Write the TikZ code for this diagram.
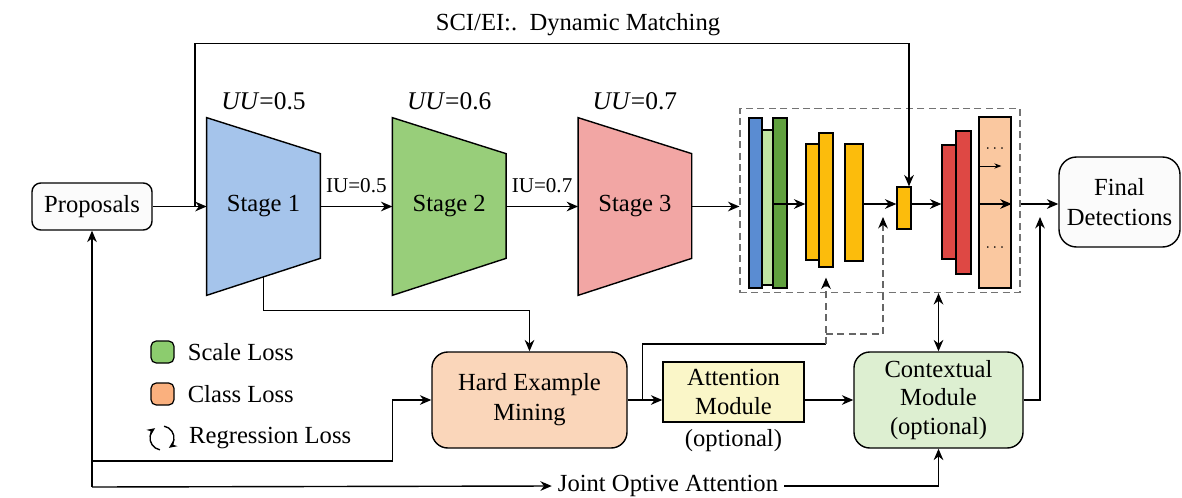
\documentclass[tikz,border=0pt]{standalone}
\usepackage{fontspec}
\setmainfont{Liberation Serif}
\usetikzlibrary{arrows.meta,positioning,calc,backgrounds}
\definecolor{stgblue}{RGB}{165,196,235}
\definecolor{stggreen}{RGB}{152,206,122}
\definecolor{stgred}{RGB}{242,166,164}
\definecolor{hemfill}{RGB}{250,214,186}
\definecolor{attfill}{RGB}{250,246,200}
\definecolor{ctxfill}{RGB}{221,239,209}
\definecolor{barblue}{RGB}{90,140,210}
\definecolor{barlgreen}{RGB}{192,228,162}
\definecolor{bardgreen}{RGB}{96,160,62}
\definecolor{baryellow}{RGB}{252,188,12}
\definecolor{barred}{RGB}{222,72,68}
\definecolor{barpeach}{RGB}{250,200,160}
\definecolor{lgdgreen}{RGB}{140,204,110}
\definecolor{lgdorange}{RGB}{250,176,126}

\begin{document}
\begin{tikzpicture}[
    x=0.2mm, y=-0.2mm,
    font=\fontsize{14}{17}\selectfont,
    arrow/.style={->, >={Stealth[length=6.5pt,width=5.5pt]}, line width=0.8pt},
    box/.style={draw, line width=0.8pt, rounded corners=9pt, align=center, inner sep=2pt},
    stage/.style={minimum width=22.6mm, minimum height=35.4mm, inner sep=0pt},
    bar/.style={draw, line width=0.7pt, inner sep=0pt},
    dline/.style={dashed, dash pattern=on 4pt off 2.5pt, draw=black!60, line width=0.7pt},
    lgd/.style={draw, line width=0.7pt, rounded corners=3pt, minimum width=4.6mm, minimum height=4.4mm, inner sep=0pt}
]
\useasboundingbox (0,0) rectangle (1182,497);

% cascade stages
\node[box, fill=gray!3, rounded corners=5pt, minimum width=24mm, minimum height=9.4mm] (prop) at (92,206.5) {Proposals};
\node[stage] (s1) at (263.5,206.5) {Stage 1};
\node[stage, right=14.4mm of s1] (s2) {Stage 2};
\node[stage, right=14.4mm of s2] (s3) {Stage 3};
\node[above=0.4mm of s1, font=\fontsize{14.5}{17}\selectfont] (uu1) {\textit{UU}=0.5};
\node[above=0.4mm of s2, font=\fontsize{14.5}{17}\selectfont] (uu2) {\textit{UU}=0.6};
\node[above=0.4mm of s3, font=\fontsize{14.5}{17}\selectfont] (uu3) {\textit{UU}=0.7};
\node[font=\fontsize{12}{14}\selectfont] (iu1) at ($(s1.east)!0.5!(s2.west)+(0,-21)$) {IU=0.5};
\node[font=\fontsize{12}{14}\selectfont] (iu2) at ($(s2.east)!0.5!(s3.west)+(0,-21)$) {IU=0.7};

\begin{scope}[on background layer]
\foreach \s/\c in {s1/stgblue, s2/stggreen, s3/stgred}
    \filldraw[fill=\c, line width=0.8pt] (\s.north west) -- ($(\s.north east)+(0,36)$)
        -- ($(\s.south east)+(0,-37)$) -- (\s.south west) -- cycle;
\end{scope}

% feature pyramid block
\node[draw=black!55, dashed, dash pattern=on 4pt off 2.5pt, line width=0.7pt, minimum width=56mm, minimum height=36.8mm] (cnn) at (880,200.5) {};
\coordinate (lvl) at (0,204);
\node[bar, fill=barblue, minimum width=2.6mm, minimum height=34mm] (b1) at (755.5,203) {};
\node[bar, fill=barlgreen, minimum width=2.2mm, minimum height=31mm] (b2) at (767.5,207.5) {};
\node[bar, fill=bardgreen, minimum width=2.8mm, minimum height=34mm] (b3) at (780,203) {};
\node[bar, fill=baryellow, minimum width=2.6mm, minimum height=23.2mm] (y1) at (812.5,202) {};
\node[bar, fill=baryellow, minimum width=2.8mm, minimum height=26.8mm] (y2) at (826,200) {};
\node[bar, fill=baryellow, minimum width=3.6mm, minimum height=23.4mm] (y3) at (854,202.5) {};
\node[bar, fill=baryellow, minimum width=2.8mm, minimum height=8.4mm] (ob) at (904,208) {};
\node[bar, fill=barred, minimum width=2.8mm, minimum height=22.8mm] (r1) at (949,202) {};
\node[bar, fill=barred, minimum width=3mm, minimum height=28.6mm] (r2) at (963.5,202.5) {};
\node[bar, fill=barpeach, minimum width=6.4mm, minimum height=34.2mm] (pk) at (995,202.5) {};
\node[font=\small] (dt1) at (995,149) {$\cdots$};
\node[font=\small] (dt2) at (995,248) {$\cdots$};

\node[box, fill=gray!3, rounded corners=10pt, minimum width=24.2mm, minimum height=18mm] (fd) at (1119.5,202) {Final\\Detections};

% lower modules
\node[box, fill=hemfill, minimum width=39mm, minimum height=19.2mm] (hem) at (529.5,400) {Hard Example\\Mining};
\node[box, fill=attfill, rounded corners=0pt, minimum width=28.2mm, minimum height=12mm, font=\fontsize{14}{16}\selectfont] (att) at (733.5,392) {Attention\\Module};
\node[below=0.2mm of att] (opt) {(optional)};
\node[box, fill=ctxfill, minimum width=33.8mm, minimum height=19.2mm, font=\fontsize{14}{16}\selectfont] (ctx) at (938.5,400) {Contextual\\Module\\(optional)};
\node (dm) at (578,25) {SCI/EI:.\ \ Dynamic Matching};
\node (joa) at (668,486) {Joint Optive Attention};

% legend
\node[lgd, fill=lgdgreen] (lg1) at (162.5,352) {};
\node[right=1.4mm of lg1] (lt1) {Scale Loss};
\node[lgd, fill=lgdorange] (lg2) at (162.5,394) {};
\node[right=1.4mm of lg2] (lt2) {Class Loss};
\coordinate (reg) at (162,438);
\node[right=4.2mm of reg] (lt3) {Regression Loss};
\draw[-{Stealth[length=4.5pt,width=4pt]}, line width=0.8pt] (reg) ++(100:12) arc (100:235:12);
\draw[-{Stealth[length=4.5pt,width=4pt]}, line width=0.8pt] (reg) ++(-80:12) arc (-80:55:12);

% main flow
\draw[arrow] (prop) -- (s1);
\draw[arrow] (s1) -- (s2);
\draw[arrow] (s2) -- (s3);
\draw[arrow] (s3) -- (s3 -| cnn.west);
\draw[arrow] (b3.west |- lvl) -- (y1.west |- lvl);
\draw[arrow] (y3.east |- lvl) -- (ob.west |- lvl);
\draw[arrow] (ob.east |- lvl) -- (r1.west |- lvl);
\draw[arrow] (pk.west |- lvl) -- (pk.east |- lvl);
\draw[->, >={Stealth[length=4pt,width=3pt]}, line width=0.5pt] (pk.west |- 0,166) -- ++(23,0);
\draw[arrow] (cnn.east |- lvl) -- (fd.west |- lvl);

% dynamic matching loop
\coordinate (tap) at (195,206.5);
\draw[arrow] (tap) -- ++(0,-163) -| ($(ob.north)+(5,0)$);

% feedback paths
\draw[arrow] ($(s1.south)+(0,-18)$) -- ++(0,33) -| (hem.north);
\coordinate (bl) at (prop.south |- 0,487);
\draw[arrow] (bl) -- (prop.south);
\draw[arrow] (bl) -- (joa.west);
\draw[arrow] (joa.east) -| (ctx.south);
\draw[arrow] (bl |- 0,461) -| ($(hem.west)+(-39,0)$) -- (hem.west);
\draw[arrow] (hem.east) -- (hem.east -| att.west);
\draw[arrow] (att.east |- ctx.west) -- (ctx.west);
\coordinate (br) at ($(hem.east)+(15,0)$);
\draw[line width=0.8pt] (br) |- (y2.south |- 0,344);
\draw[dline, ->, >={Stealth[length=6.5pt,width=5.5pt,black]}] (y2.south |- 0,344) -- ($(y2.south)+(0,10)$);
\coordinate (gap) at (883,217);
\draw[dline, ->, >={Stealth[length=6.5pt,width=5.5pt,black]}] (y2.south |- 0,334) -| (gap);
\draw[arrow, <->] (ctx.north) -- (ctx.north |- cnn.south);
\coordinate (fdin) at (1040,217);
\draw[arrow] (ctx.east) -| (fdin);
\end{tikzpicture}
\end{document}
